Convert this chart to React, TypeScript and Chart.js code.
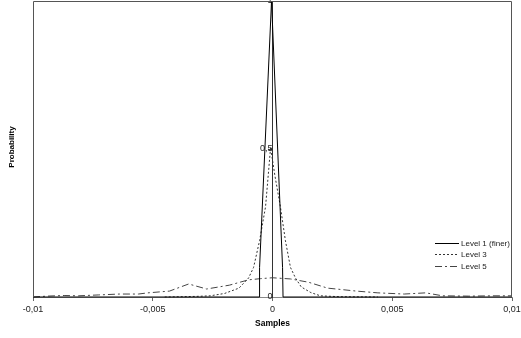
import React, { useEffect, useRef } from "react";
import { Chart, registerables } from "chart.js";

Chart.register(...registerables);

const xTicks = [-0.01, -0.005, 0, 0.005, 0.01];
const yTicks = [0, 0.5, 1];

const seriesNames = ["Level 1 (finer)", "Level 3", "Level 5"];

const level1X = [-0.01, -0.00056, -0.00054, -0.00004, 0.00042, 0.00044, 0.01];
const level1Y = [0, 0, 0.1, 1.0, 0.1, 0, 0];

const level3X = [-0.0045, -0.0032, -0.0026, -0.002, -0.0014, -0.001, -0.00079, -0.00054, -0.00029, -0.00008, 0.0001, 0.00033, 0.00054, 0.00075, 0.00096, 0.0012, 0.0016, 0.002, 0.0028, 0.0044];
const level3Y = [0, 0.002, 0.004, 0.012, 0.03, 0.064, 0.1, 0.19, 0.305, 0.505, 0.41, 0.305, 0.19, 0.1, 0.064, 0.034, 0.015, 0.004, 0.001, 0];

const level5X = [-0.01, -0.0094, -0.0087, -0.0081, -0.00725, -0.0064, -0.0056, -0.0052, -0.0043, -0.0035, -0.00275, -0.0018, -0.001, -0.0005, 0, 0.00075, 0.0015, 0.0023, 0.0035, 0.0044, 0.0055, 0.0064, 0.0071, 0.0082, 0.0092, 0.01];
const level5Y = [0, 0.003, 0.005, 0.004, 0.007, 0.01, 0.01, 0.014, 0.02, 0.044, 0.027, 0.04, 0.058, 0.062, 0.065, 0.061, 0.05, 0.03, 0.02, 0.014, 0.01, 0.014, 0.004, 0.003, 0.004, 0.004];

const fmt = (v: number) => {
  const r = Math.round(v * 100000) / 100000;
  return String(r).replace(".", ",");
};

const toPts = (xs: number[], ys: number[]) => xs.map((x, i) => ({ x, y: ys[i] }));

const FONT = "'Liberation Sans', Arial, sans-serif";

const framePlugin = {
  id: "frameAndText",
  afterDraw(chart: any) {
    const { ctx, chartArea } = chart;
    const { left, right, top, bottom } = chartArea;
    ctx.save();
    ctx.strokeStyle = "#555";
    ctx.lineWidth = 1;
    ctx.beginPath();
    ctx.moveTo(left + 0.5, bottom);
    ctx.lineTo(left + 0.5, top + 0.5);
    ctx.lineTo(right - 0.5, top + 0.5);
    ctx.lineTo(right - 0.5, bottom);
    ctx.stroke();
    ctx.fillStyle = "#000";
    ctx.font = `bold 8px ${FONT}`;
    ctx.textAlign = "center";
    ctx.textBaseline = "middle";
    ctx.translate(12, 147);
    ctx.rotate(-Math.PI / 2);
    ctx.fillText("Probability", 0, 0);
    ctx.restore();

    ctx.save();
    const ys = [243, 254, 266];
    chart.data.datasets.forEach((ds: any, i: number) => {
      ctx.strokeStyle = ds.borderColor;
      ctx.lineWidth = 1;
      ctx.setLineDash(ds.borderDash || []);
      ctx.beginPath();
      ctx.moveTo(435, ys[i] + 0.5);
      ctx.lineTo(459, ys[i] + 0.5);
      ctx.stroke();
      ctx.setLineDash([]);
      ctx.fillStyle = "#222";
      ctx.font = `8px ${FONT}`;
      ctx.textAlign = "left";
      ctx.textBaseline = "middle";
      ctx.fillText(ds.label, 461, ys[i] + 0.5);
    });
    ctx.restore();
  },
};

export default function App() {
  const ref = useRef<HTMLCanvasElement | null>(null);
  useEffect(() => {
    if (!ref.current) return;
    const chart = new Chart(ref.current, {
      type: "scatter",
      data: {
        datasets: [
          {
            label: seriesNames[0],
            data: toPts(level1X, level1Y),
            showLine: true,
            borderColor: "#000",
            borderWidth: 1,
            pointRadius: 0,
          },
          {
            label: seriesNames[1],
            data: toPts(level3X, level3Y),
            showLine: true,
            borderColor: "#333",
            borderWidth: 1,
            borderDash: [2, 2],
            pointRadius: 0,
          },
          {
            label: seriesNames[2],
            data: toPts(level5X, level5Y),
            showLine: true,
            borderColor: "#444",
            borderWidth: 1,
            borderDash: [7, 3, 2, 3],
            pointRadius: 0,
          },
        ] as any,
      },
      options: {
        responsive: false,
        animation: false,
        clip: false as any,
        layout: { padding: { left: 33, right: 28, top: 1, bottom: 0 } },
        plugins: { legend: { display: false }, tooltip: { enabled: false } },
        scales: {
          x: {
            type: "linear",
            min: -0.01,
            max: 0.01,
            afterBuildTicks: (axis: any) => {
              axis.ticks = xTicks.map((v) => ({ value: v }));
            },
            afterFit: (axis: any) => {
              axis.height = 41;
            },
            ticks: {
              callback: (v: any) => fmt(Number(v)),
              font: { family: FONT, size: 9 },
              color: "#222",
              padding: 3,
              maxRotation: 0,
              autoSkip: false,
            },
            grid: { drawOnChartArea: false, drawTicks: true, tickLength: 4, color: "#666" },
            border: { color: "#888" },
            title: {
              display: true,
              text: "Samples",
              font: { family: FONT, size: 8.5, weight: "bold" },
              color: "#000",
              padding: { top: 0, bottom: 9 },
            },
          },
          y: {
            type: "linear",
            position: { x: 0 } as any,
            min: 0,
            max: 1,
            afterBuildTicks: (axis: any) => {
              axis.ticks = yTicks.map((v) => ({ value: v }));
            },
            afterFit: (axis: any) => {
              axis.paddingTop = 0;
              axis.paddingBottom = 0;
            },
            ticks: {
              callback: (v: any) => fmt(Number(v)),
              font: { family: FONT, size: 9 },
              color: "#222",
              padding: 3,
            },
            grid: { drawOnChartArea: false, drawTicks: true, tickLength: 4, color: "#444" },
            border: { color: "#333" },
          },
        },
      },
      plugins: [framePlugin],
    });
    return () => chart.destroy();
  }, []);
  return (
    <div style={{ position: "fixed", left: 0, top: 0, width: 521, height: 338, overflow: "hidden", background: "#fff" }}>
      <canvas ref={ref} width={540} height={338} style={{ display: "block", width: 540, height: 338 }} />
    </div>
  );
}
